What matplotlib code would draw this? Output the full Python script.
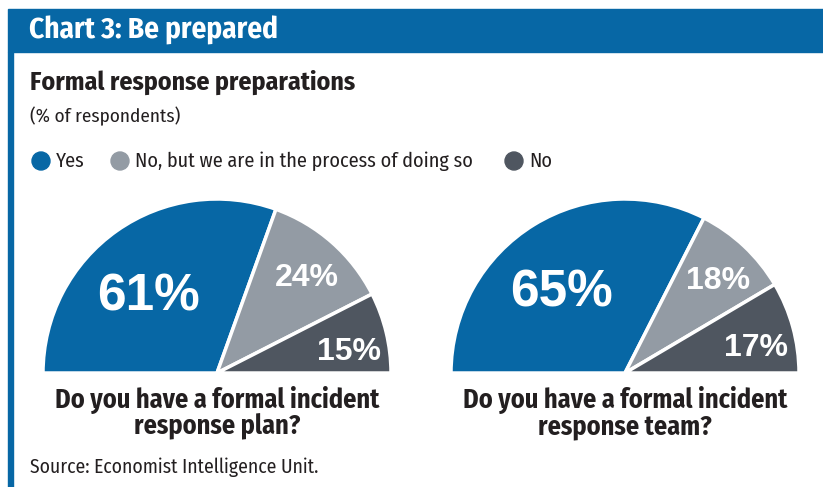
import numpy as np
import matplotlib.pyplot as plt
from matplotlib.patches import Rectangle, Ellipse

# Survey results (% of respondents)
answers = ["Yes", "No, but we are in the process of doing so", "No"]
plan_values = [61, 24, 15]
team_values = [65, 18, 17]
questions = ["Do you have a formal incident\nresponse plan?",
             "Do you have a formal incident\nresponse team?"]

colors = ["#0767a5", "#939ba4", "#4f5660"]
blue = "#0767a5"
ink = "#231f20"
cond = ["Fira Sans Condensed", "DejaVu Sans"]

W, H = 823, 487
fig = plt.figure(figsize=(W / 100, H / 100), dpi=100)


def fx(x):
    return x / W


def fy(y):
    return 1 - y / H


# Header band and left rule
fig.patches.append(Rectangle((fx(8), fy(52)), fx(W) - fx(8), fy(9) - fy(52),
                             transform=fig.transFigure, color=blue, zorder=0))
fig.patches.append(Rectangle((fx(8), 0), fx(4.5), fy(52),
                             transform=fig.transFigure, color=blue, zorder=0))

fig.text(fx(29), fy(39), "Chart 3: Be prepared", color="white", fontsize=21,
         fontweight="bold", family=cond, va="baseline")
fig.text(fx(30), fy(90), "Formal response preparations", color=ink, fontsize=18.6,
         fontweight="bold", family=cond, va="baseline")
fig.text(fx(30), fy(122), "(% of respondents)", color=ink, fontsize=13.8,
         family=cond, va="baseline")

# Legend
legend_x = [41, 120, 514]
for x, label, c in zip(legend_x, answers, colors):
    fig.patches.append(Ellipse((fx(x), fy(161)), 18 / W, 18 / H,
                               transform=fig.transFigure, color=c))
    fig.text(fx(x + 15), fy(167), label, color=ink, fontsize=14.5, family=cond,
             va="baseline")

# Half pies: the real answers fill the top half, a hidden wedge the bottom
radius_px = 174
centers = [(217, 373), (625, 373)]
label_r = [0.61, 0.765, 0.77]
label_turn = [5, -1, -3]
label_size = [37, 23, 23]
for (cx, cy), values, question in zip(centers, [plan_values, team_values], questions):
    ax = fig.add_axes([fx(cx - radius_px), fy(cy + radius_px),
                       2 * radius_px / W, 2 * radius_px / H])
    wedges, _ = ax.pie(values + [sum(values)], colors=colors + ["white"],
                       startangle=180, counterclock=False, radius=1,
                       wedgeprops=dict(edgecolor="white", linewidth=2.5))
    wedges[-1].set_visible(False)
    ax.set_xlim(-1, 1)
    ax.set_ylim(-1, 1)
    ax.axis("off")

    for w, v, r, turn, fs in zip(wedges[:-1], values, label_r, label_turn, label_size):
        mid = np.deg2rad((w.theta1 + w.theta2) / 2 + turn)
        drop = 0.716 * fs * 100 / 72 / 2 / radius_px
        ax.text(r * np.cos(mid), r * np.sin(mid) - drop, f"{v}%", color="white",
                fontsize=fs, fontweight="bold", family="Liberation Sans",
                ha="center", va="baseline")

    fig.text(fx(cx), fy(413), question, color=ink, fontsize=18.9, fontweight="bold",
             family=cond, ha="center", va="center", linespacing=1.0)

fig.text(fx(30), fy(473), "Source: Economist Intelligence Unit.", color=ink,
         fontsize=14.1, family=cond, va="baseline")

fig.savefig("out.png", dpi=100)
